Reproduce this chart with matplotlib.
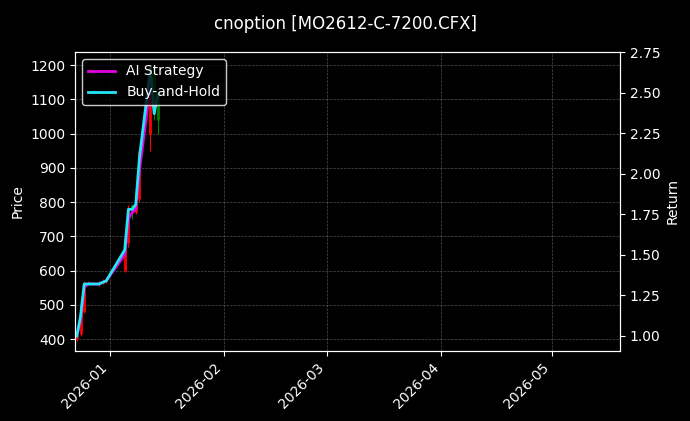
import numpy as np
import pandas as pd
import matplotlib
matplotlib.use("Agg")
import matplotlib.pyplot as plt
import matplotlib.dates as mdates

dates = pd.to_datetime(["2025-12-23", "2025-12-24", "2025-12-25", "2025-12-26", "2025-12-29",
                        "2025-12-30", "2025-12-31", "2026-01-05", "2026-01-06", "2026-01-07",
                        "2026-01-08", "2026-01-09", "2026-01-12", "2026-01-13", "2026-01-14"])
opens = [400, 415, 480, 565, 560, 565, 570, 600, 680, 790, 770, 810, 1000, 1180, 1120]
highs = [420, 490, 570, 570, 570, 575, 580, 650, 790, 795, 800, 960, 1180, 1190, 1120]
lows = [395, 410, 475, 560, 555, 560, 565, 595, 670, 750, 765, 800, 950, 1040, 1000]
closes = [410, 480, 565, 565, 565, 570, 575, 665, 780, 780, 795, 950, 1170, 1060, 1040]
bh_return = [1.0, 1.12, 1.32, 1.32, 1.32, 1.33, 1.34, 1.53, 1.78, 1.78, 1.81, 2.1, 2.65, 2.37, 2.49]
ai_return = [1.0, 1.10, 1.30, 1.32, 1.32, 1.33, 1.34, 1.50, 1.72, 1.76, 1.78, 2.02, 2.55, 2.40, 2.47]

plt.rcParams['font.family'] = ['DejaVu Sans']
fig = plt.figure(figsize=(6.9, 4.21), dpi=100, facecolor="black")
ax = fig.add_axes([75/690, 1-351/421, 545/690, 299/421], facecolor="black")
fig.suptitle("cnoption [MO2612-C-7200.CFX]", color="white", fontsize=12, y=0.965)

for d, o, h, l, c in zip(dates, opens, highs, lows, closes):
    col = "red" if c >= o else "green"
    ax.vlines(d, l, h, color=col, linewidth=0.8)
    ax.vlines(d, min(o, c), max(o, c), color=col, linewidth=2)

ax.set_ylim(365, 1238)
ax.set_xlim(pd.Timestamp("2025-12-22 12:00"), pd.Timestamp("2026-05-19 12:00"))
ax.set_ylabel("Price", color="white")
ax.grid(True, color="gray", linestyle="--", linewidth=0.5, alpha=0.6)

ax2 = ax.twinx()
ax2.plot(dates, ai_return, color="#e000e0", linewidth=2, label="AI Strategy")
ax2.plot(dates, bh_return, color="#22e5f5", linewidth=2, label="Buy-and-Hold")
ax2.set_ylim(0.907, 2.75)
ax2.set_ylabel("Return", color="white")

for a in (ax, ax2):
    a.tick_params(colors="white")
    for s in a.spines.values():
        s.set_color("white")

ax.xaxis.set_major_locator(mdates.MonthLocator())
ax.xaxis.set_major_formatter(mdates.DateFormatter("%Y-%m"))
plt.setp(ax.get_xticklabels(), rotation=45, ha="right")

leg = ax2.legend(loc="upper left", facecolor="black", edgecolor="white", framealpha=0.8)
for t in leg.get_texts():
    t.set_color("white")

fig.savefig("out.png", dpi=100, facecolor="black")
